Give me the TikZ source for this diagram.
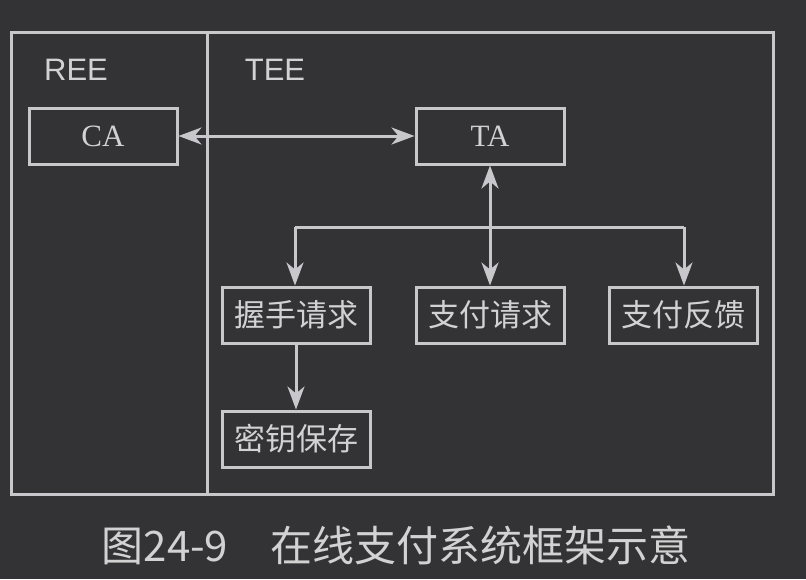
\documentclass[tikz,border=0pt]{standalone}
\usepackage{fontspec}
\setmainfont{Liberation Serif}
\newfontfamily\latinsans{Liberation Sans}
\newfontfamily\cjk{Noto Sans CJK SC}
\usetikzlibrary{arrows.meta}
\definecolor{bgc}{HTML}{333336}
\definecolor{fgc}{HTML}{C8C8CC}
\definecolor{txc}{HTML}{D2D2D2}
\tikzset{
  box/.style={draw=fgc, line width=3pt, minimum width=148pt, minimum height=56pt, inner sep=0pt, text=txc},
  cabox/.style={box, font=\fontsize{31}{34}\selectfont},
  cnbox/.style={box, font=\cjk\fontsize{31}{34}\selectfont},
  lbl/.style={text=txc, font=\latinsans\fontsize{31}{36}\selectfont, inner sep=0pt},
  conn/.style={draw=fgc, line width=3pt},
  tip/.style={-{Stealth[length=23pt,width=17pt,inset=7pt]}},
  dtip/.style={{Stealth[length=23pt,width=17pt,inset=7pt]}-{Stealth[length=23pt,width=17pt,inset=7pt]}},
}
\begin{document}
\begin{tikzpicture}[x=1pt,y=-1pt]
\fill[bgc] (0,0) rectangle (806,579);
\useasboundingbox (0,0) rectangle (806,579);
\draw[conn] (11,32) rectangle (773,494);
\draw[conn] (207,32) -- (207,494);
\node[lbl] (ree) at (76,70) {REE};
\node[lbl] (tee) at (275,70) {TEE};
\node[cabox] (ca) at (103,136) {CA};
\node[cabox] (ta) at (490,136) {TA};
\node[cnbox] (ws) at (296,315) {握手请求};
\node[cnbox] (zq) at (490,315) {支付请求};
\node[cnbox] (zf) at (683,315) {支付反馈};
\node[cnbox] (my) at (296,439) {密钥保存};
\coordinate (hl) at (295,227);
\coordinate (hr) at (684,227);
\draw[conn,dtip] (ca.east) -- (ta.west);
\draw[conn,dtip] (ta.south) -- (zq.north);
\draw[conn,tip] (hl) -- (ws.north -| hl);
\draw[conn,tip] (hr) -- (zf.north -| hr);
\draw[conn] (hl) -- (hr);
\draw[conn,tip] (ws.south) -- (my.north);
\node[text=txc, font=\cjk\fontsize{42}{46}\selectfont, inner sep=0pt] (cap) at (396,545) {图24-9\hspace{1em}在线支付系统框架示意};
\end{tikzpicture}
\end{document}
